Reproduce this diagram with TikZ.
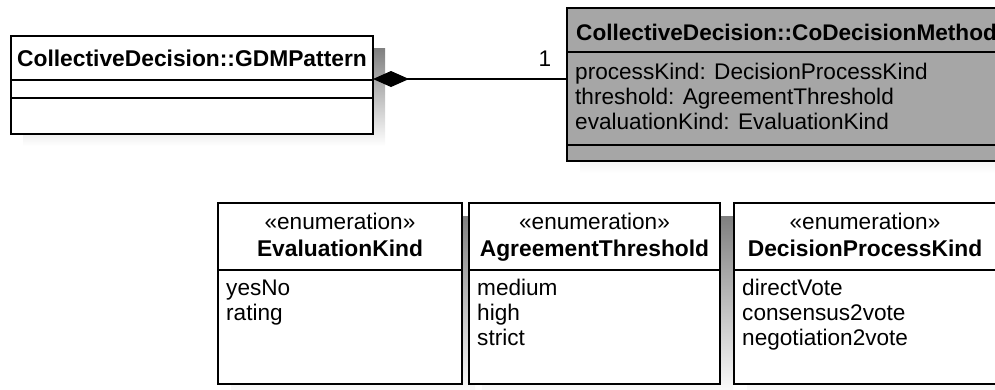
\documentclass[tikz,border=0pt]{standalone}
\usepackage{fontspec}
\setmainfont{Liberation Sans}
\usetikzlibrary{arrows.meta}
\definecolor{shade}{RGB}{240,240,240}
\definecolor{classgray}{RGB}{166,166,166}
\begin{document}
\begin{tikzpicture}[x=1pt,y=-1pt,
  box/.style={draw=black, line width=1.5pt, anchor=north west, inner sep=0pt, outer sep=0pt},
  sep/.style={draw=black, line width=1.5pt},
  txt/.style={inner sep=0pt, anchor=base west, font=\fontsize{22.6}{25}\selectfont},
  btxt/.style={inner sep=0pt, anchor=base west, font=\fontsize{22.6}{25}\selectfont\bfseries},
  ctxt/.style={inner sep=0pt, anchor=base, font=\fontsize{22.6}{25}\selectfont},
  cbtxt/.style={inner sep=0pt, anchor=base, font=\fontsize{22.8}{25}\selectfont\bfseries},
  comp/.style={draw=black, line width=1.5pt, -{Diamond[length=36pt,width=16pt]}}]
\useasboundingbox (0,0) rectangle (995,389);
\clip (0,0) rectangle (995,389);
% shadows
\fill[shade] (23,48) rectangle (385,146);
\fill[shade] (580,20) rectangle (1010,173);
\fill[shade] (231,216) rectangle (475,397);
\fill[shade] (482,216) rectangle (733,397);
\fill[shade] (747,216) rectangle (1010,397);
% GDMPattern class
\node[box, fill=white, minimum width=362pt, minimum height=98pt] (gdm) at (11,36) {};
\draw[sep] (11,80) -- (373,80);
\draw[sep] (11,98) -- (373,98);
\node[cbtxt] (gdmtitle) at (192,66) {CollectiveDecision::GDMPattern};
% CoDecisionMethod class
\node[box, fill=classgray, minimum width=443pt, minimum height=153pt] (codm) at (567,8) {};
\draw[sep] (567,52) -- (1010,52);
\draw[sep] (567,145) -- (1010,145);
\node[btxt] (codmtitle) at (576,40) {CollectiveDecision::CoDecisionMethod};
\node[txt] (attr1) at (575,79) {processKind: DecisionProcessKind};
\node[txt] (attr2) at (575,104) {threshold: AgreementThreshold};
\node[txt] (attr3) at (575,129) {evaluationKind: EvaluationKind};
% composition
\coordinate (gdmport) at (373,79);
\coordinate (codmport) at (567,79);
\draw[comp] (codmport) -- (gdmport);
\node[ctxt] (mult) at (545,66) {1};
% enumerations
\node[box, fill=white, minimum width=244pt, minimum height=181pt] (enum1) at (218,203) {};
\draw[sep] (218,270) -- (462,270);
\node[ctxt] (st1) at (340,229) {«enumeration»};
\node[cbtxt] (nm1) at (340,256) {EvaluationKind};
\node[txt] (e1a) at (226,295) {yesNo};
\node[txt] (e1b) at (226,320) {rating};

\node[box, fill=white, minimum width=251pt, minimum height=181pt] (enum2) at (469,203) {};
\draw[sep] (469,270) -- (720,270);
\node[ctxt] (st2) at (594.5,229) {«enumeration»};
\node[cbtxt] (nm2) at (594.5,256) {AgreementThreshold};
\node[txt] (e2a) at (477,295) {medium};
\node[txt] (e2b) at (477,320) {high};
\node[txt] (e2c) at (477,345) {strict};

\node[box, fill=white, minimum width=262pt, minimum height=181pt] (enum3) at (734,203) {};
\draw[sep] (734,270) -- (996,270);
\node[ctxt] (st3) at (865,229) {«enumeration»};
\node[cbtxt] (nm3) at (865,256) {DecisionProcessKind};
\node[txt] (e3a) at (742,295) {directVote};
\node[txt] (e3b) at (742,320) {consensus2vote};
\node[txt] (e3c) at (742,345) {negotiation2vote};
\end{tikzpicture}
\end{document}
